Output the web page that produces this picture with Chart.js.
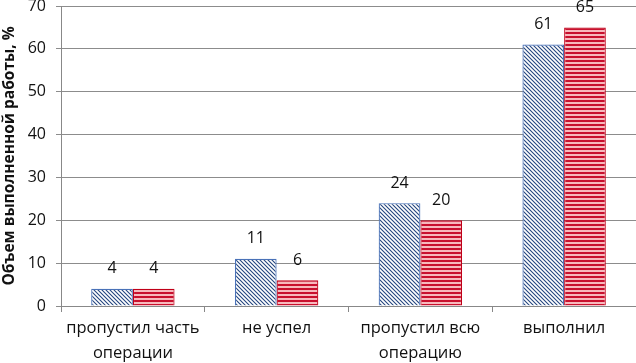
<!DOCTYPE html>
<html>
<head>
<meta charset="utf-8">
<script src="https://cdn.jsdelivr.net/npm/chart.js@4.4.0/dist/chart.umd.min.js"></script>
<style>
  html, body { margin: 0; padding: 0; background: #fff; }
  #wrap { width: 636px; height: 363px; }
</style>
</head>
<body>
<div id="wrap"><canvas id="chart" width="636" height="363"></canvas></div>
<script>
const categories = [
  ["пропустил часть", "операции"],
  "не успел",
  ["пропустил всю", "операцию"],
  "выполнил"
];
const seriesBlue = [4, 11, 24, 61];
const seriesRed = [4, 6, 20, 65];
const yTicks = [0, 10, 20, 30, 40, 50, 60, 70];
const yTitle = "Объем выполненной работы, %";

// hatch patterns
function bluePattern() {
  const c = document.createElement("canvas");
  c.width = 4; c.height = 4;
  const g = c.getContext("2d");
  g.fillStyle = "#ffffff";
  g.fillRect(0, 0, 4, 4);
  g.strokeStyle = "#24467f";
  g.lineWidth = 1.1;
  g.beginPath();
  g.moveTo(-1, -1); g.lineTo(5, 5);
  g.moveTo(-1, 3); g.lineTo(1, 5);
  g.moveTo(3, -1); g.lineTo(5, 1);
  g.stroke();
  return g.createPattern(c, "repeat");
}
function redPattern() {
  const c = document.createElement("canvas");
  c.width = 4; c.height = 4;
  const g = c.getContext("2d");
  g.fillStyle = "#f7b9bd";
  g.fillRect(0, 0, 4, 4);
  g.fillStyle = "#c8102e";
  g.fillRect(0, 0, 4, 2);
  return g.createPattern(c, "repeat");
}

const valueLabels = {
  id: "valueLabels",
  afterDatasetsDraw(chart) {
    const ctx = chart.ctx;
    ctx.save();
    ctx.font = "16px 'Open Sans', sans-serif";
    ctx.fillStyle = "#111";
    ctx.textAlign = "center";
    ctx.textBaseline = "middle";
    chart.data.datasets.forEach((ds, i) => {
      chart.getDatasetMeta(i).data.forEach((bar, j) => {
        ctx.fillText(ds.data[j], bar.x, bar.y - 20);
      });
    });
    ctx.restore();
  }
};

chart = new Chart(document.getElementById("chart"), {
  type: "bar",
  data: {
    labels: categories,
    datasets: [
      { data: seriesBlue, backgroundColor: bluePattern(), borderColor: "#4a72b8", borderWidth: 1.2 },
      { data: seriesRed, backgroundColor: redPattern(), borderColor: "#c00018", borderWidth: 1.2 }
    ]
  },
  options: {
    responsive: false,
    animation: false,
    events: [],
    categoryPercentage: 0.58,
    barPercentage: 1,
    layout: { padding: { top: 6, right: 0, left: 0, bottom: 0 } },
    plugins: { legend: { display: false }, tooltip: { enabled: false } },
    scales: {
      x: {
        grid: { display: true, drawOnChartArea: false, offset: true, color: "#888", tickLength: 6 },
        border: { color: "#888" },
        ticks: { color: "#111", font: { size: 16.5, family: "'Open Sans', sans-serif", lineHeight: 1.5 }, padding: 4, maxRotation: 0 },
        afterFit(s) { s.height = 57; s.paddingLeft = 0; s.paddingRight = 0; }
      },
      y: {
        min: 0, max: 70,
        afterBuildTicks(s) { s.ticks = yTicks.map(v => ({ value: v })); },
        grid: { color: "#8c8c8c", tickLength: 5 },
        border: { color: "#888" },
        ticks: { color: "#111", font: { size: 16, family: "'Open Sans', sans-serif" }, padding: 10 },
        title: { display: true, text: yTitle, color: "#111", font: { size: 15.5, weight: "bold", family: "'Open Sans', sans-serif" }, padding: { top: 0, bottom: 0 } },
        afterFit(s) { s.width = 61; s.paddingTop = 0; s.paddingBottom = 0; }
      }
    }
  },
  plugins: [valueLabels]
});
</script>
</body>
</html>
